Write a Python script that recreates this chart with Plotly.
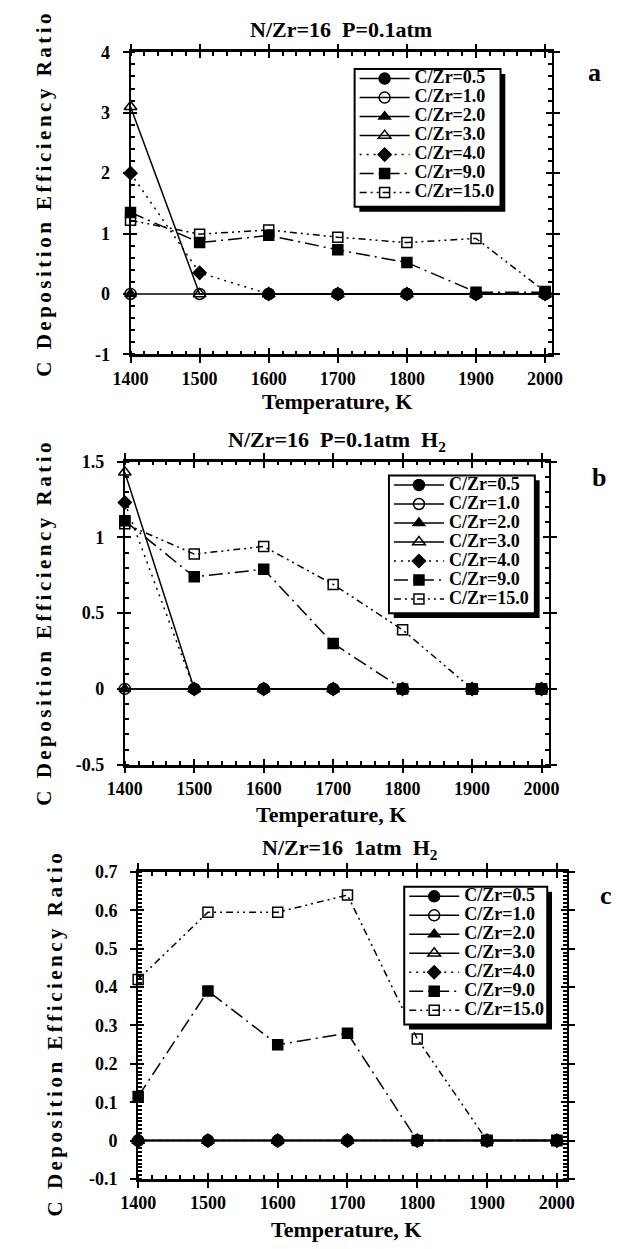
import numpy as np
import plotly.graph_objects as go

FONT = "Liberation Serif"
W, H = 625, 1249

temps = [1400, 1500, 1600, 1700, 1800, 1900, 2000]
series_names = ["C/Zr=0.5", "C/Zr=1.0", "C/Zr=2.0", "C/Zr=3.0", "C/Zr=4.0", "C/Zr=9.0", "C/Zr=15.0"]

# Panel a: N/Zr=16 P=0.1atm
a_cz05 = [None, None, 0, 0, 0, 0, 0]
a_cz10 = [0, 0, 0, 0, 0, 0, 0]
a_cz20 = [0, None, 0, 0, 0, 0, 0]
a_cz30 = [3.1, 0, 0, 0, 0, 0, 0]
a_cz40 = [2.0, 0.35, 0, 0, 0, 0, 0]
a_cz90 = [1.35, 0.85, 0.97, 0.73, 0.52, 0.03, 0.03]
a_cz150 = [1.22, 0.99, 1.06, 0.94, 0.85, 0.92, 0.04]

# Panel b: N/Zr=16 P=0.1atm H2
b_cz05 = [None, 0, 0, 0, 0, 0, 0]
b_cz10 = [0, 0, 0, 0, 0, 0, 0]
b_cz20 = [0, 0, 0, 0, 0, 0, 0]
b_cz30 = [1.43, 0, 0, 0, 0, 0, 0]
b_cz40 = [1.23, 0, 0, 0, 0, 0, 0]
b_cz90 = [1.11, 0.74, 0.79, 0.30, 0, 0, 0]
b_cz150 = [1.09, 0.89, 0.94, 0.69, 0.39, 0, 0]

# Panel c: N/Zr=16 1atm H2
c_cz05 = [0, 0, 0, 0, 0, 0, 0]
c_cz10 = [0, 0, 0, 0, 0, 0, 0]
c_cz20 = [0, 0, 0, 0, 0, 0, 0]
c_cz30 = [0, 0, 0, 0, 0, 0, 0]
c_cz40 = [0, 0, 0, 0, 0, 0, 0]
c_cz90 = [0.115, 0.39, 0.25, 0.28, 0, 0, 0]
c_cz150 = [0.42, 0.595, 0.595, 0.64, 0.265, 0, 0]

x_ticks = [1400, 1500, 1600, 1700, 1800, 1900, 2000]
x_ticktext = ["1400", "1500", "1600", "1700", "1800", "1900", "2000"]
a_yticks = [-1, 0, 1, 2, 3, 4]
a_yticktext = ["-1", "0", "1", "2", "3", "4"]
b_yticks = [-0.5, 0, 0.5, 1, 1.5]
b_yticktext = ["-0.5", "0", "0.5", "1", "1.5"]
c_yticks = [-0.1, 0, 0.1, 0.2, 0.3, 0.4, 0.5, 0.6, 0.7]
c_yticktext = ["-0.1", "0", "0.1", "0.2", "0.3", "0.4", "0.5", "0.6", "0.7"]

titles = ["N/Zr=16\u00a0\u00a0P=0.1atm", "N/Zr=16\u00a0\u00a0P=0.1atm\u00a0\u00a0H<sub>2</sub>",
          "N/Zr=16\u00a0\u00a01atm\u00a0\u00a0H<sub>2</sub>"]
panel_letters = ["a", "b", "c"]
xtitle = "Temperature, K"
ytitle = "C Deposition Efficiency Ratio"

styles = [
    dict(symbol="circle", size=11, dash="solid"),
    dict(symbol="circle-open", size=11, dash="solid"),
    dict(symbol="triangle-up", size=10, dash="solid"),
    dict(symbol="triangle-up-open", size=11, dash="solid"),
    dict(symbol="diamond", size=10, dash="2px,5px"),
    dict(symbol="square", size=10, dash="14px,5px,2px,5px"),
    dict(symbol="square-open", size=10, dash="7px,4px,2px,4px,2px,4px"),
]

# layout geometry in pixels
panels = [
    dict(data=[a_cz05, a_cz10, a_cz20, a_cz30, a_cz40, a_cz90, a_cz150],
         xpx=(118, 560), ypx=(43, 350), xr=[1400, 2010], yr=[-1, 4],
         yt=a_yticks, ytt=a_yticktext, ymin=0.2,
         title=(339, 20), xt=(334, 398), ytl=(27, 186), let=(605, 64), leg=(353, 60, 506, 200)),
    dict(data=[b_cz05, b_cz10, b_cz20, b_cz30, b_cz40, b_cz90, b_cz150],
         xpx=(112, 557), ypx=(459, 767), xr=[1400, 2011], yr=[-0.5, 1.5],
         yt=b_yticks, ytt=b_yticktext, ymin=0.1,
         title=(334, 438), xt=(328, 818), ytl=(27, 622), let=(609, 475), leg=(389, 473, 542, 613)),
    dict(data=[c_cz05, c_cz10, c_cz20, c_cz30, c_cz40, c_cz90, c_cz150],
         xpx=(126, 576), ypx=(876, 1188), xr=[1400, 2015], yr=[-0.1, 0.7],
         yt=c_yticks, ytt=c_yticktext, ymin=0.01,
         title=(348, 853), xt=(344, 1239), ytl=(39, 1040), let=(617, 900), leg=(405, 891, 555, 1031)),
]

fx = lambda p: p / W
fy = lambda p: 1 - p / H

fig = go.Figure()
layout = dict(width=W, height=H, margin=dict(l=0, r=0, t=0, b=0),
              paper_bgcolor="white", plot_bgcolor="white", showlegend=True,
              font=dict(family=FONT, color="black"))
annotations = []
shapes = []
tickfont = dict(family=FONT, size=18, color="black", weight="bold")

for i, p in enumerate(panels):
    n = i + 1
    sx = "" if n == 1 else str(n)
    legkey = "legend" if n == 1 else f"legend{n}"
    for k, (nm, st) in enumerate(zip(series_names, styles)):
        fig.add_trace(go.Scatter(
            x=temps, y=p["data"][k], mode="lines+markers", name=f'<span style="font-size:18px">{nm}</span>',
            xaxis=f"x{sx}", yaxis=f"y{sx}", legend=legkey, cliponaxis=False,
            line=dict(color="black", width=1.5, dash=st["dash"]),
            marker=dict(symbol=st["symbol"], size=st["size"], color="black",
                        line=dict(color="black", width=1.5)),
        ))
    # overlay axes for inside major ticks
    ox = n + 3
    fig.add_trace(go.Scatter(x=[None], y=[None], xaxis=f"x{ox}", yaxis=f"y{ox}",
                             showlegend=False, hoverinfo="skip"))
    xmin = np.arange(p["xr"][0], p["xr"][1] + 1e-9, 20)
    ymin = np.arange(p["yr"][0], p["yr"][1] + 1e-9, p["ymin"])
    layout[f"xaxis{sx}"] = dict(
        domain=[fx(p["xpx"][0]), fx(p["xpx"][1])], range=p["xr"], anchor=f"y{sx}",
        showline=True, linecolor="black", linewidth=2.5, mirror="allticks",
        ticks="outside", ticklen=6, tickwidth=2, tickcolor="black",
        tickmode="array", tickvals=x_ticks, ticktext=x_ticktext, tickfont=tickfont,
        ticklabelstandoff=0,
        minor=dict(ticks="inside", ticklen=4, tickwidth=1.5, tickcolor="black",
                   tickmode="array", tickvals=list(xmin), showgrid=False),
        showgrid=False, zeroline=False, fixedrange=True)
    layout[f"yaxis{sx}"] = dict(
        domain=[fy(p["ypx"][1]), fy(p["ypx"][0])], range=p["yr"], anchor=f"x{sx}",
        showline=True, linecolor="black", linewidth=2, mirror="allticks",
        ticks="outside", ticklen=6, tickwidth=2, tickcolor="black",
        tickmode="array", tickvals=p["yt"], ticktext=p["ytt"], tickfont=tickfont,
        ticklabelstandoff=9,
        minor=dict(ticks="inside", ticklen=4, tickwidth=1.5, tickcolor="black",
                   tickmode="array", tickvals=list(ymin), showgrid=False),
        showgrid=False, zeroline=False, fixedrange=True)
    layout[f"xaxis{ox}"] = dict(
        overlaying=f"x{sx}" if sx else "x", range=p["xr"], anchor=f"y{ox}",
        showline=False, mirror="allticks", ticks="inside", ticklen=6, tickwidth=2, tickcolor="black",
        tickmode="array", tickvals=x_ticks, showticklabels=False,
        showgrid=False, zeroline=False, fixedrange=True)
    layout[f"yaxis{ox}"] = dict(
        overlaying=f"y{sx}" if sx else "y", range=p["yr"], anchor=f"x{ox}",
        showline=False, mirror="allticks", ticks="inside", ticklen=6, tickwidth=2, tickcolor="black",
        tickmode="array", tickvals=p["yt"], showticklabels=False,
        showgrid=False, zeroline=False, fixedrange=True)
    lx0, ly0, lx1, ly1 = p["leg"]
    layout[legkey] = dict(x=fx(lx0), y=fy(ly0 - 5), xanchor="left", yanchor="top",
                          bgcolor="rgba(0,0,0,0)", borderwidth=0,
                          font=dict(family=FONT, size=12, color="black", weight="bold"),
                          itemwidth=50, tracegroupgap=0, itemclick=False)
    # legend frame with drop shadow
    shapes.append(dict(type="rect", xref="paper", yref="paper",
                       x0=fx(lx0 + 5), x1=fx(lx1 + 5), y0=fy(ly1 + 5), y1=fy(ly0 + 5),
                       fillcolor="black", line=dict(width=0), layer="above"))
    shapes.append(dict(type="rect", xref="paper", yref="paper",
                       x0=fx(lx0), x1=fx(lx1), y0=fy(ly1), y1=fy(ly0),
                       fillcolor="white", line=dict(width=2, color="black"), layer="above"))
    annotations.append(dict(text=titles[i], x=fx(p["title"][0]), y=fy(p["title"][1]),
                            xref="paper", yref="paper", showarrow=False,
                            xanchor="center", yanchor="middle",
                            font=dict(family=FONT, size=22, color="black", weight="bold")))
    annotations.append(dict(text=xtitle, x=fx(p["xt"][0]), y=fy(p["xt"][1]),
                            xref="paper", yref="paper", showarrow=False,
                            xanchor="center", yanchor="middle",
                            font=dict(family=FONT, size=22, color="black", weight="bold")))
    annotations.append(dict(text=f'<span style="letter-spacing:3.5px">{ytitle}</span>',
                            x=fx(p["ytl"][0]), y=fy(p["ytl"][1]), textangle=-90,
                            xref="paper", yref="paper", showarrow=False,
                            xanchor="center", yanchor="middle",
                            font=dict(family=FONT, size=21, color="black", weight="bold")))
    annotations.append(dict(text=panel_letters[i], x=fx(p["let"][0]), y=fy(p["let"][1]),
                            xref="paper", yref="paper", showarrow=False,
                            xanchor="center", yanchor="middle",
                            font=dict(family=FONT, size=26, color="black", weight="bold")))

layout["annotations"] = annotations
layout["shapes"] = shapes
fig.update_layout(**layout)
fig.write_html("out.html")
